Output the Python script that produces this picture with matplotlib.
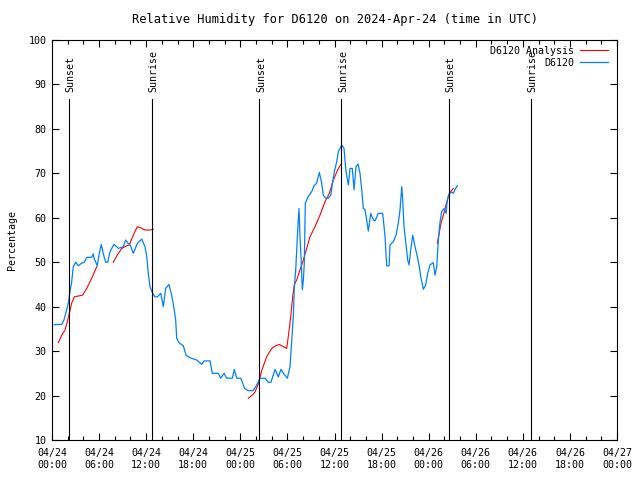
import numpy as np
import matplotlib
matplotlib.use("Agg")
import matplotlib.pyplot as plt
from matplotlib.ticker import MultipleLocator

# hours since 2024-04-24 00:00 UTC
obs_hours = [0.25, 0.6, 1.24, 1.53, 1.87, 2.08, 2.29, 2.51, 2.71, 3.02, 3.35, 3.78, 4.12, 4.42,
             5.06, 5.26, 5.35, 5.77, 6.03, 6.28, 6.54, 6.84, 7.10, 7.39, 7.90, 8.25, 8.45, 9.09,
             9.39, 9.72, 9.94, 10.36, 10.87, 11.43, 11.85, 12.07, 12.27, 12.49, 12.83, 13.13,
             13.42, 13.87, 14.18, 14.49, 14.91, 15.25, 15.55, 15.76, 15.89, 16.18, 16.73, 17.08,
             17.59, 18.44, 19.08, 19.37, 20.14, 20.43, 21.19, 21.50, 21.92, 22.26, 22.98, 23.23,
             23.54, 24.05, 24.55, 25.02, 25.62, 26.09, 26.51, 27.14, 27.56, 27.91, 28.42, 28.84,
             29.18, 29.57, 29.99, 30.33, 30.55, 30.75, 30.88, 31.06, 31.18, 31.31, 31.48, 31.60,
             31.73, 31.90, 32.03, 32.15, 32.28, 32.66, 33.10, 33.39, 33.73, 34.06, 34.37, 34.57,
             34.88, 35.21, 35.52, 35.77, 35.98, 36.28, 36.49, 36.92, 37.21, 37.47, 37.76, 37.98,
             38.27, 38.49, 38.74, 39.00, 39.25, 39.47, 39.67, 39.89, 40.10, 40.31, 40.62, 40.95,
             41.16, 41.58, 42.14, 42.44, 42.65, 42.95, 43.07, 43.49, 43.84, 44.13, 44.35, 44.57,
             44.69, 44.86, 45.11, 45.33, 45.50, 45.71, 45.97, 46.26, 46.55, 46.81, 46.99, 47.32,
             47.62, 47.88, 48.17, 48.59, 48.81, 49.03, 49.23, 49.45, 49.66, 49.96, 50.21, 50.38,
             50.63, 50.94, 51.14, 51.36, 51.65]
obs_rh = [35.9, 36.0, 36.0, 37.0, 39.3, 40.8, 43.4, 45.6, 49.0, 50.0, 49.2, 49.8, 50.0, 51.1,
          51.1, 51.9, 50.9, 49.2, 52.0, 54.0, 51.9, 50.0, 50.0, 52.4, 54.0, 53.5, 53.1, 53.5,
          55.0, 54.2, 54.0, 52.0, 54.2, 55.2, 53.5, 51.3, 47.5, 44.5, 43.0, 42.2,
          42.2, 43.0, 40.0, 44.1, 45.0, 42.6, 39.6, 37.0, 32.9, 31.9, 31.2, 29.1,
          28.5, 28.0, 27.0, 27.8, 27.8, 25.0, 25.0, 23.9, 25.0, 23.9, 23.9, 25.9,
          23.9, 23.9, 21.6, 21.1, 21.1, 22.4, 23.9, 23.9, 23.0, 23.0, 25.9, 24.2,
          25.9, 24.8, 23.9, 26.5, 32.5, 37.7, 44.5, 48.3, 52.4, 57.3, 62.1, 55.7,
          51.3, 43.8, 46.0, 49.8, 63.3, 64.8, 65.9, 67.2, 67.8, 70.2, 67.8, 65.1,
          64.4, 64.4, 65.1, 68.1, 70.4, 72.6, 74.9, 76.4, 75.6, 70.4, 67.4, 71.1,
          71.1, 66.3, 71.5, 72.1, 70.0, 66.3, 62.1, 61.8, 59.5, 57.0, 61.0, 59.5,
          59.3, 61.0, 61.0, 55.8, 49.2, 49.2, 53.9, 54.6, 56.1, 58.8, 61.8, 67.0,
          64.0, 58.0, 53.9, 50.5, 49.4, 52.8, 56.1, 53.5, 51.3, 49.0, 46.8, 43.9,
          44.9, 47.5, 49.4, 49.9, 47.1, 49.0, 55.0, 59.1, 61.4, 62.1, 61.0, 64.0,
          65.5, 65.8, 65.5, 66.4, 67.2]

# analysis series, in separate pieces (gaps between them)
ana_hours = [
    [0.80, 1.24, 1.66, 1.95, 2.20, 2.51, 2.84, 3.35, 3.91, 4.42, 5.06, 5.70],
    [7.81, 8.32, 8.88, 9.52, 9.85, 10.36, 10.87, 11.21, 11.85, 12.49, 12.91],
    [25.02, 25.65, 25.87, 26.29, 26.72, 27.36, 28.00, 28.51, 28.97, 29.48, 29.91, 30.11,
     30.42, 30.67, 30.88, 31.18, 31.60, 32.03, 32.46, 32.88, 33.52, 34.15, 34.79, 35.34,
     35.85, 36.49, 36.92],
    [49.10, 49.57, 49.87, 50.21, 50.50, 50.85, 51.14],
]
ana_rh = [
    [31.9, 33.6, 34.75, 36.6, 38.5, 40.8, 42.2, 42.4, 42.6, 44.1, 46.4, 49.0],
    [50.0, 51.6, 53.1, 53.7, 53.9, 56.1, 58.0, 57.8, 57.25, 57.25, 57.4],
    [19.4, 20.3, 20.8, 22.6, 25.6, 28.75, 30.6, 31.2, 31.5, 31.0, 30.6, 33.25,
     37.75, 42.25, 44.9, 46.0, 48.25, 50.5, 53.1, 55.75, 58.0, 60.6, 63.6, 65.5,
     68.5, 71.1, 72.25],
    [54.25, 58.75, 60.6, 62.9, 64.75, 66.0, 66.6],
]

sun_hours = [2.20, 12.78, 26.42, 36.87, 50.63, 61.04]
sun_names = ["Sunset", "Sunrise", "Sunset", "Sunrise", "Sunset", "Sunrise"]

tick_hours = list(range(0, 73, 6))
tick_labels = ["04/24\n00:00", "04/24\n06:00", "04/24\n12:00", "04/24\n18:00",
               "04/25\n00:00", "04/25\n06:00", "04/25\n12:00", "04/25\n18:00",
               "04/26\n00:00", "04/26\n06:00", "04/26\n12:00", "04/26\n18:00",
               "04/27\n00:00"]

plt.rcParams['font.family'] = 'DejaVu Sans Mono'
plt.rcParams['font.size'] = 7.2

fig = plt.figure(figsize=(6.4, 4.8), dpi=100)
ax = fig.add_axes([52/640, 40/480, 565/640, 400/480])

for i in range(len(ana_hours)):
    ax.plot(ana_hours[i], ana_rh[i], color="#ff0000", lw=0.8,
            label="D6120 Analysis" if i == 0 else None)
ax.plot(obs_hours, obs_rh, color="#0080ff", lw=0.9, label="D6120")

for h, name in zip(sun_hours, sun_names):
    ax.plot([h, h], [10, 86.7], color="black", lw=0.8)
    ax.text(h + 0.2, 88.3, name, rotation=90, ha="center", va="bottom")

ax.set_xlim(0, 72)
ax.set_ylim(10, 100)
ax.set_xticks(tick_hours)
ax.set_xticklabels(tick_labels)
ax.xaxis.set_minor_locator(MultipleLocator(2))
ax.set_yticks(range(10, 101, 10))
ax.tick_params(which="both", direction="in", top=True, right=True, width=0.8)
ax.tick_params(which="major", length=5, pad=6)
ax.tick_params(which="minor", length=3)
ax.tick_params(axis="y", pad=4)
for s in ax.spines.values():
    s.set_linewidth(0.8)

ax.set_ylabel("Percentage", labelpad=8)
ax.set_title("Relative Humidity for D6120 on 2024-Apr-24 (time in UTC)", pad=12)

ax.legend(loc="upper right", frameon=False, markerfirst=False, handlelength=2.8,
          handletextpad=0.6, labelspacing=0.2, borderaxespad=0.2, bbox_to_anchor=(0.995, 1.0))

fig.savefig("out.png", dpi=100)
